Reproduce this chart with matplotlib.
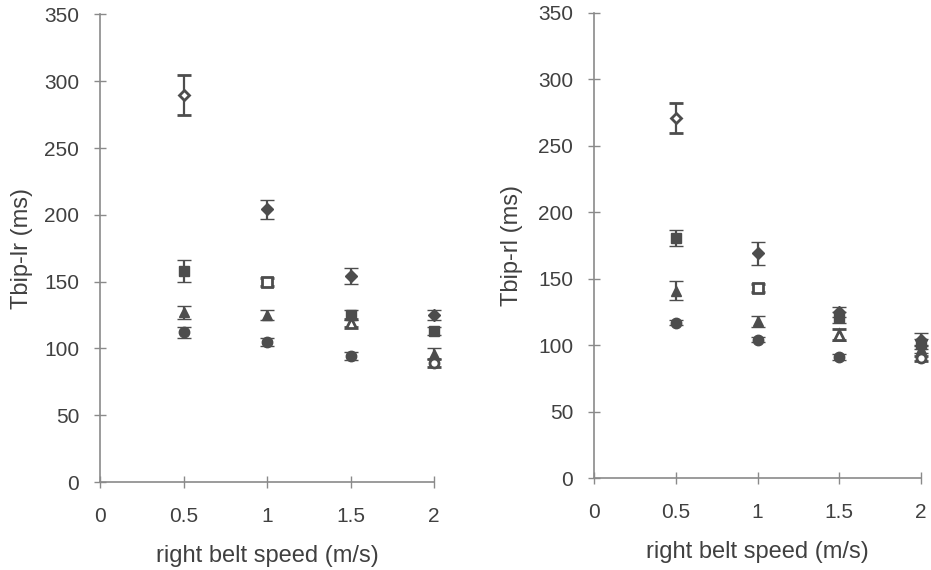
import matplotlib.pyplot as plt

plt.rcParams['font.family'] = ['Liberation Sans', 'DejaVu Sans']

# right belt speed (m/s)
speeds = [0.5, 1.0, 1.5, 2.0]
speed_ticks = [0, 0.5, 1, 1.5, 2]
speed_labels = ["0", "0.5", "1", "1.5", "2"]
time_ticks = [0, 50, 100, 150, 200, 250, 300, 350]

# one series per left belt speed; open marker where left == right
left_speeds = [0.5, 1.0, 1.5, 2.0]
markers = ["D", "s", "^", "o"]

# Tbip-lr (ms)
lr_mean = [
    [290, 204, 154, 125],
    [158, 150, 125, 113],
    [127, 125, 119, 96],
    [112, 105, 94, 89],
]
lr_err = [
    [15, 7, 6, 4],
    [8, 3, 4, 3],
    [5, 4, 3, 4],
    [4, 3, 3, 3],
]

# Tbip-rl (ms)
rl_mean = [
    [271, 169, 125, 104],
    [181, 143, 121, 101],
    [141, 118, 108, 97],
    [117, 104, 91, 90],
]
rl_err = [
    [11, 9, 4, 5],
    [6, 3, 4, 4],
    [7, 4, 4, 3],
    [2, 2, 2, 2],
]

mark_col = "#4d4d4d"
axis_col = "#8a8a8a"
text_col = "#404040"

fig = plt.figure(figsize=(9.31, 5.70), dpi=100)
ax1 = fig.add_axes([100 / 931, 88 / 570, 334 / 931, 467.6 / 570])
ax2 = fig.add_axes([594 / 931, 92 / 570, 327 / 931, 465 / 570])


def draw(ax, means, errs, ylabel, ylab_x):
    for k in range(len(left_speeds)):
        for j, x in enumerate(speeds):
            open_pt = left_speeds[k] == x
            size = 6.5 if markers[k] == "D" else 7.5
            if open_pt:
                size -= 1
            ax.errorbar(x, means[k][j], yerr=errs[k][j], fmt=markers[k],
                        color=mark_col, ecolor=mark_col, elinewidth=1.6,
                        capsize=5, capthick=1.6, markersize=size,
                        markerfacecolor="white" if open_pt else mark_col,
                        markeredgecolor=mark_col, markeredgewidth=2 if open_pt else 1,
                        clip_on=False, zorder=3)
    ax.set_xlim(0, 2)
    ax.set_ylim(0, 350)
    ax.set_xticks(speed_ticks)
    ax.set_xticklabels(speed_labels)
    ax.set_yticks(time_ticks)
    for s in ["top", "right"]:
        ax.spines[s].set_visible(False)
    for s in ["left", "bottom"]:
        ax.spines[s].set_color(axis_col)
        ax.spines[s].set_linewidth(1.2)
    ax.tick_params(direction="inout", length=8, width=1, color=axis_col,
                   labelsize=15, labelcolor=text_col)
    ax.tick_params(axis="x", pad=14)
    ax.tick_params(axis="y", pad=11)
    ax.set_xlabel("right belt speed (m/s)", fontsize=17, color=text_col)
    ax.set_ylabel(ylabel, fontsize=17, color=text_col)
    ax.xaxis.set_label_coords(0.5, -0.135)
    ax.yaxis.set_label_coords(ylab_x, 0.5)


draw(ax1, lr_mean, lr_err, "Tbip-lr (ms)", -0.2)
draw(ax2, rl_mean, rl_err, "Tbip-rl (ms)", -0.217)

fig.savefig("out.png", dpi=100)
